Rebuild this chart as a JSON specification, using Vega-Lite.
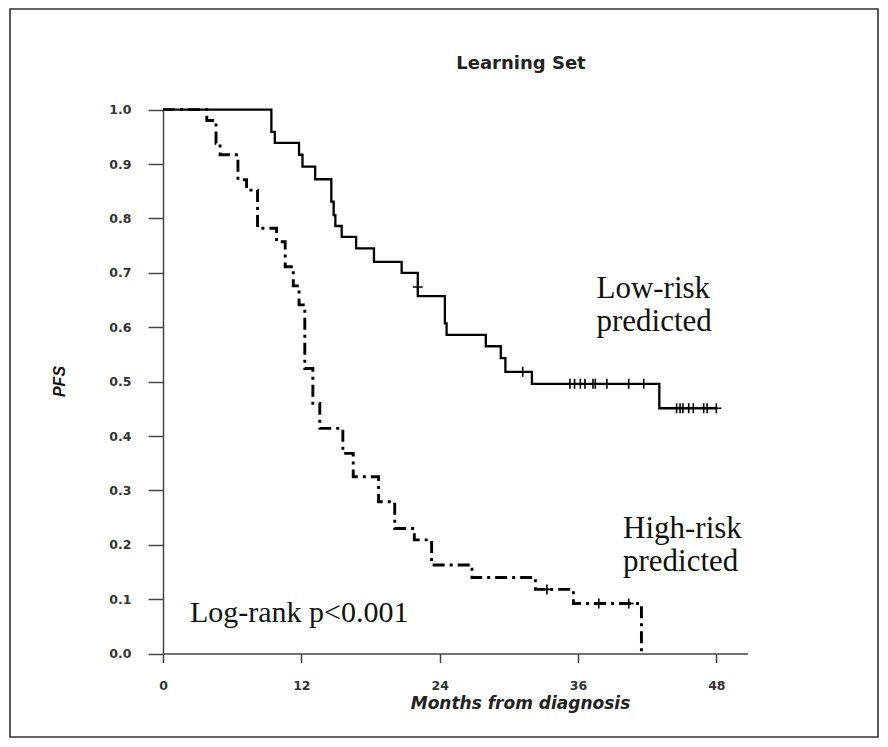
{
  "$schema": "https://vega.github.io/schema/vega-lite/v6.json",
  "width": 868,
  "height": 728,
  "autosize": {"type": "none"},
  "padding": {"left": 10, "top": 9, "right": 10, "bottom": 10},
  "background": "white",
  "config": {"view": {"stroke": "#333", "strokeWidth": 1.6}},
  "title": {"text": "Learning Set", "font": "DejaVu Sans", "fontWeight": "bold", "fontSize": 18, "color": "#222", "anchor": "middle", "frame": "group", "baseline": "alphabetic", "offset": -78, "dx": 77},
  "datasets": {
    "curves": [
      {"group": "Low-risk predicted", "month": 0, "pfs": 1.0},
      {"group": "Low-risk predicted", "month": 9.4, "pfs": 0.959},
      {"group": "Low-risk predicted", "month": 9.7, "pfs": 0.939},
      {"group": "Low-risk predicted", "month": 11.8, "pfs": 0.917},
      {"group": "Low-risk predicted", "month": 12.1, "pfs": 0.895},
      {"group": "Low-risk predicted", "month": 13.2, "pfs": 0.872},
      {"group": "Low-risk predicted", "month": 14.6, "pfs": 0.831},
      {"group": "Low-risk predicted", "month": 14.8, "pfs": 0.806},
      {"group": "Low-risk predicted", "month": 14.95, "pfs": 0.786},
      {"group": "Low-risk predicted", "month": 15.5, "pfs": 0.766},
      {"group": "Low-risk predicted", "month": 16.75, "pfs": 0.745},
      {"group": "Low-risk predicted", "month": 18.3, "pfs": 0.72},
      {"group": "Low-risk predicted", "month": 20.7, "pfs": 0.7},
      {"group": "Low-risk predicted", "month": 22.1, "pfs": 0.657},
      {"group": "Low-risk predicted", "month": 24.45, "pfs": 0.607},
      {"group": "Low-risk predicted", "month": 24.6, "pfs": 0.586},
      {"group": "Low-risk predicted", "month": 28.0, "pfs": 0.565},
      {"group": "Low-risk predicted", "month": 29.3, "pfs": 0.543},
      {"group": "Low-risk predicted", "month": 29.7, "pfs": 0.518},
      {"group": "Low-risk predicted", "month": 32.0, "pfs": 0.496},
      {"group": "Low-risk predicted", "month": 43.05, "pfs": 0.451},
      {"group": "Low-risk predicted", "month": 48.0, "pfs": 0.451},
      {"group": "High-risk predicted", "month": 0, "pfs": 1.0},
      {"group": "High-risk predicted", "month": 3.8, "pfs": 0.98},
      {"group": "High-risk predicted", "month": 4.6, "pfs": 0.938},
      {"group": "High-risk predicted", "month": 4.95, "pfs": 0.917},
      {"group": "High-risk predicted", "month": 6.5, "pfs": 0.871},
      {"group": "High-risk predicted", "month": 7.25, "pfs": 0.852},
      {"group": "High-risk predicted", "month": 8.2, "pfs": 0.782},
      {"group": "High-risk predicted", "month": 9.85, "pfs": 0.757},
      {"group": "High-risk predicted", "month": 10.6, "pfs": 0.711},
      {"group": "High-risk predicted", "month": 11.3, "pfs": 0.676},
      {"group": "High-risk predicted", "month": 11.8, "pfs": 0.641},
      {"group": "High-risk predicted", "month": 12.3, "pfs": 0.524},
      {"group": "High-risk predicted", "month": 13.0, "pfs": 0.46},
      {"group": "High-risk predicted", "month": 13.6, "pfs": 0.414},
      {"group": "High-risk predicted", "month": 15.6, "pfs": 0.368},
      {"group": "High-risk predicted", "month": 16.5, "pfs": 0.325},
      {"group": "High-risk predicted", "month": 18.7, "pfs": 0.279},
      {"group": "High-risk predicted", "month": 20.1, "pfs": 0.23},
      {"group": "High-risk predicted", "month": 21.8, "pfs": 0.209},
      {"group": "High-risk predicted", "month": 23.3, "pfs": 0.163},
      {"group": "High-risk predicted", "month": 26.8, "pfs": 0.14},
      {"group": "High-risk predicted", "month": 32.3, "pfs": 0.118},
      {"group": "High-risk predicted", "month": 35.6, "pfs": 0.092},
      {"group": "High-risk predicted", "month": 41.5, "pfs": 0.0}
    ],
    "censored": [
      {"group": "Low-risk predicted", "month": 22.1, "pfs": 0.674},
      {"group": "Low-risk predicted", "month": 31.2, "pfs": 0.518},
      {"group": "Low-risk predicted", "month": 35.3, "pfs": 0.496},
      {"group": "Low-risk predicted", "month": 35.7, "pfs": 0.496},
      {"group": "Low-risk predicted", "month": 36.2, "pfs": 0.496},
      {"group": "Low-risk predicted", "month": 36.6, "pfs": 0.496},
      {"group": "Low-risk predicted", "month": 37.3, "pfs": 0.496},
      {"group": "Low-risk predicted", "month": 37.5, "pfs": 0.496},
      {"group": "Low-risk predicted", "month": 38.5, "pfs": 0.496},
      {"group": "Low-risk predicted", "month": 40.4, "pfs": 0.496},
      {"group": "Low-risk predicted", "month": 41.7, "pfs": 0.496},
      {"group": "Low-risk predicted", "month": 44.55, "pfs": 0.451},
      {"group": "Low-risk predicted", "month": 44.85, "pfs": 0.451},
      {"group": "Low-risk predicted", "month": 45.1, "pfs": 0.451},
      {"group": "Low-risk predicted", "month": 45.6, "pfs": 0.451},
      {"group": "Low-risk predicted", "month": 46.0, "pfs": 0.451},
      {"group": "Low-risk predicted", "month": 46.9, "pfs": 0.451},
      {"group": "Low-risk predicted", "month": 47.2, "pfs": 0.451},
      {"group": "Low-risk predicted", "month": 48.0, "pfs": 0.451},
      {"group": "High-risk predicted", "month": 33.3, "pfs": 0.118},
      {"group": "High-risk predicted", "month": 37.8, "pfs": 0.092},
      {"group": "High-risk predicted", "month": 40.4, "pfs": 0.092}
    ]
  },
  "layer": [
    {
      "data": {"name": "curves"},
      "transform": [{"filter": "datum.group === 'Low-risk predicted'"}],
      "mark": {"type": "line", "interpolate": "step-after", "color": "black", "strokeWidth": 2.3},
      "encoding": {
        "x": {
          "field": "month", "type": "quantitative",
          "scale": {"domain": [0, 50.7], "range": [153, 737.5], "nice": false, "zero": false},
          "axis": {
            "values": [0, 12, 24, 36, 48], "title": "Months from diagnosis", "offset": -83.4, "grid": false,
            "domainColor": "#444", "domainWidth": 1.5, "tickColor": "#444", "tickWidth": 1.5, "tickSize": 9,
            "labelFont": "DejaVu Sans", "labelFontWeight": "bold", "labelFontSize": 12.5, "labelColor": "#333",
            "labelPadding": 17, "labelFlush": false, "labelOverlap": false,
            "titleFont": "DejaVu Sans", "titleFontWeight": "bold", "titleFontStyle": "italic", "titleFontSize": 17,
            "titleColor": "#222", "titleX": 510, "titleY": 50, "titleBaseline": "middle", "titleAlign": "center"
          }
        },
        "y": {
          "field": "pfs", "type": "quantitative",
          "scale": {"domain": [0, 1], "range": [644.6, 100.6], "nice": false, "zero": false},
          "axis": {
            "values": [0, 0.1, 0.2, 0.3, 0.4, 0.5, 0.6, 0.7, 0.8, 0.9, 1.0], "format": ".1f", "title": "PFS",
            "offset": -153, "grid": false,
            "domainColor": "#444", "domainWidth": 1.5, "tickColor": "#444", "tickWidth": 1.5, "tickSize": 15,
            "labelFont": "DejaVu Sans", "labelFontWeight": "bold", "labelFontSize": 12.5, "labelColor": "#333",
            "labelPadding": 17, "labelFlush": false, "labelOverlap": false,
            "titleFont": "Liberation Sans", "titleFontStyle": "italic", "titleFontWeight": "bold", "titleFontSize": 16,
            "titleColor": "#111", "titleX": -103.5, "titleY": 372, "titleBaseline": "middle", "titleAlign": "center", "titleAngle": -90
          }
        }
      }
    },
    {
      "data": {"name": "curves"},
      "transform": [{"filter": "datum.group === 'High-risk predicted'"}],
      "mark": {"type": "line", "interpolate": "step-after", "color": "black", "strokeWidth": 2.9, "strokeDash": [12, 5, 3, 5]},
      "encoding": {
        "x": {"field": "month", "type": "quantitative"},
        "y": {"field": "pfs", "type": "quantitative"}
      }
    },
    {
      "data": {"name": "censored"},
      "mark": {"type": "point", "shape": "M-1,0H1M0,-1V1", "size": 100, "filled": false, "color": "black", "strokeWidth": 1.6, "opacity": 1},
      "encoding": {
        "x": {"field": "month", "type": "quantitative"},
        "y": {"field": "pfs", "type": "quantitative"}
      }
    },
    {
      "data": {"values": [{}]},
      "mark": {"type": "text", "text": ["Low-risk", "predicted"], "font": "Liberation Serif", "fontSize": 31, "lineHeight": 33, "align": "left", "baseline": "alphabetic", "color": "#111"},
      "encoding": {
        "x": {"datum": 37.6, "type": "quantitative"},
        "y": {"datum": 0.654, "type": "quantitative"}
      }
    },
    {
      "data": {"values": [{}]},
      "mark": {"type": "text", "text": ["High-risk", "predicted"], "font": "Liberation Serif", "fontSize": 31, "lineHeight": 33, "align": "left", "baseline": "alphabetic", "color": "#111"},
      "encoding": {
        "x": {"datum": 39.9, "type": "quantitative"},
        "y": {"datum": 0.2125, "type": "quantitative"}
      }
    },
    {
      "data": {"values": [{}]},
      "mark": {"type": "text", "text": "Log-rank p<0.001", "font": "Liberation Serif", "fontSize": 30, "align": "left", "baseline": "alphabetic", "color": "#111"},
      "encoding": {
        "x": {"datum": 2.34, "type": "quantitative"},
        "y": {"datum": 0.0586, "type": "quantitative"}
      }
    }
  ]
}
